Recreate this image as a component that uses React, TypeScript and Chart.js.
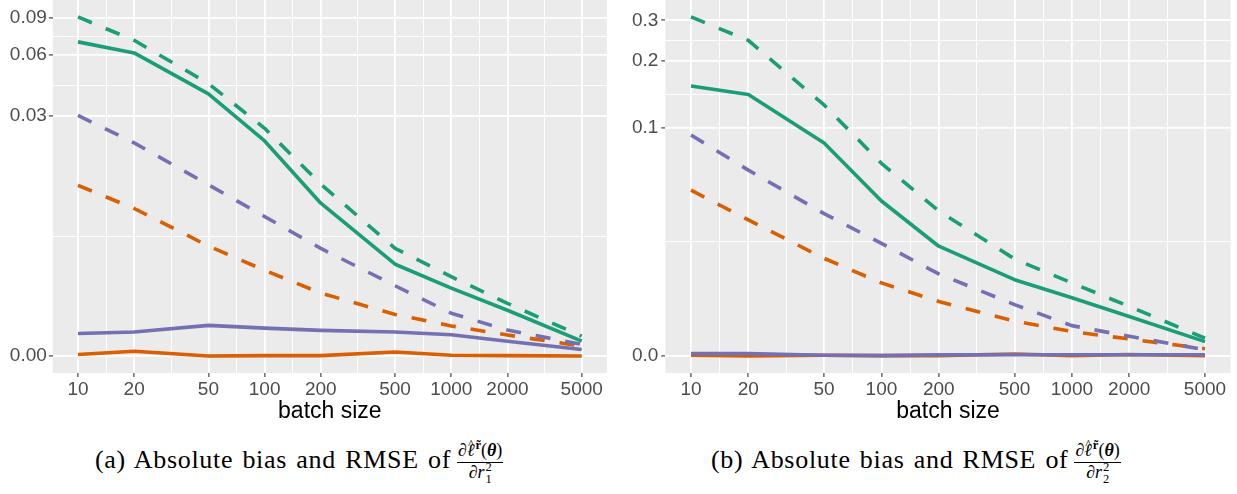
import React, { useEffect, useRef } from 'react';
import { Chart, registerables, LinearScale } from 'chart.js';

Chart.register(...registerables);

// ---------------- data ----------------
const batchSizes = [10, 20, 50, 100, 200, 500, 1000, 2000, 5000];
const xTicks = [10, 20, 50, 100, 200, 500, 1000, 2000, 5000];

const yTicksA = [0, 0.03, 0.06, 0.09];
const yLabelsA = ['0.00', '0.03', '0.06', '0.09'];
const yTicksB = [0, 0.1, 0.2, 0.3];
const yLabelsB = ['0.0', '0.1', '0.2', '0.3'];

// panel (a): solid = absolute bias, dashed = RMSE
const biasGreenA = [0.0693, 0.0613, 0.0387, 0.0224, 0.0103, 0.00417, 0.00267, 0.00158, 0.00043];
const rmseGreenA = [0.0912, 0.0705, 0.0435, 0.026, 0.0132, 0.0054, 0.00334, 0.00189, 0.00059];
const biasOrangeA = [0.00004, 0.00013, 0, 0.00001, 0.00001, 0.00011, 0.00002, 0.00001, 0];
const rmseOrangeA = [0.013, 0.0096, 0.0056, 0.00375, 0.0024, 0.0014, 0.00095, 0.00063, 0.00028];
const biasPurpleA = [0.00068, 0.00073, 0.00097, 0.00087, 0.00079, 0.00073, 0.00064, 0.00043, 0.00018];
const rmsePurpleA = [0.0302, 0.0219, 0.0131, 0.0086, 0.0054, 0.0028, 0.00145, 0.0008, 0.00033];

// panel (b)
const biasGreenB = [0.155, 0.142, 0.0848, 0.0435, 0.0238, 0.0138, 0.0096, 0.0059, 0.0019];
const rmseGreenB = [0.31, 0.2456, 0.1273, 0.0677, 0.0384, 0.0196, 0.013, 0.0078, 0.0024];
const biasOrangeB = [0.0001, 0, 0.0001, 0.00005, 0.00005, 0.00025, 0.00005, 0.0002, 0.00003];
const rmseOrangeB = [0.0496, 0.0342, 0.0198, 0.013, 0.0088, 0.0051, 0.0034, 0.00228, 0.00094];
const biasPurpleB = [0.0003, 0.0003, 0.0001, 0.00005, 0.00015, 0.00016, 0.00016, 0.00016, 0.00016];
const rmsePurpleB = [0.0925, 0.0627, 0.0371, 0.0248, 0.0153, 0.00816, 0.00434, 0.00267, 0.0008];

// ---------------- style ----------------
const GREEN = '#1B9E77';
const ORANGE = '#D95F02';
const PURPLE = '#7570B3';
const SANS = "'Liberation Sans', Arial, Helvetica, sans-serif";
const SERIF = "'Liberation Serif', 'Times New Roman', serif";

// pseudo-log (log(1 + y / c)) value axis, like the transformed ggplot axis
class PseudoLogScale extends (LinearScale as any) {
  static id = 'pseudolog';
  static defaults = {};
  _t0 = 0;
  _t1 = 1;
  tf(v: number) {
    const c = (this as any).options.c;
    return Math.log(1 + v / c);
  }
  itf(t: number) {
    const c = (this as any).options.c;
    return c * (Math.exp(t) - 1);
  }
  buildTicks() {
    const majors: number[] = (this as any).options.majors;
    const ts = majors.map((v) => this.tf(v));
    const out: any[] = majors.map((v) => ({ value: v, mn: false }));
    for (let i = 0; i < ts.length - 1; i++) {
      out.push({ value: this.itf((ts[i] + ts[i + 1]) / 2), mn: true });
    }
    out.sort((a, b) => a.value - b.value);
    return out;
  }
  configure() {
    super.configure();
    const self = this as any;
    const lo = this.tf(self.min);
    const hi = this.tf(self.max);
    const pad = (hi - lo) * 0.05;
    this._t0 = lo - pad;
    this._t1 = hi + pad;
  }
  getPixelForValue(v: number) {
    return (this as any).getPixelForDecimal((this.tf(v) - this._t0) / (this._t1 - this._t0));
  }
  getValueForPixel(p: number) {
    return this.itf(this._t0 + (this as any).getDecimalForPixel(p) * (this._t1 - this._t0));
  }
}
Chart.register(PseudoLogScale as any);

const bgPlugin = {
  id: 'panelBg',
  beforeDraw(chart: any) {
    const { ctx, chartArea: a } = chart;
    ctx.save();
    ctx.fillStyle = '#EBEBEB';
    ctx.fillRect(a.left, a.top, a.right - a.left, a.bottom - a.top);
    ctx.restore();
  },
};

function line(data: number[], color: string, dashed: boolean) {
  return {
    data: batchSizes.map((x, i) => ({ x, y: data[i] })),
    borderColor: color,
    backgroundColor: color,
    borderWidth: 3.6,
    borderDash: dashed ? [15, 15] : [],
    borderCapStyle: 'butt',
    borderJoinStyle: 'round',
    pointRadius: 0,
    pointHoverRadius: 0,
    fill: false,
    tension: 0,
  };
}

const lg = Math.log10;
const xSpan = lg(batchSizes[batchSizes.length - 1]) - lg(batchSizes[0]);
const xMin = Math.pow(10, lg(batchSizes[0]) - 0.05 * xSpan);
const xMax = Math.pow(10, lg(batchSizes[batchSizes.length - 1]) + 0.05 * xSpan);

const CANVAS_H = 430;
const X_AXIS_H = 57;
const TICK_FONT = 19;

function Panel(props: any) {
  const ref = useRef<HTMLCanvasElement>(null);
  const { left, width, yAxisWidth, rightPad, c, yTicks, yLabels, series, labelPad } = props;
  useEffect(() => {
    const minorW = 0.9;
    const majorW = 1.8;
    const chart = new Chart(ref.current as HTMLCanvasElement, {
      type: 'line',
      data: {
        datasets: [
          line(series.biasPurple, PURPLE, false),
          line(series.rmsePurple, PURPLE, true),
          line(series.biasOrange, ORANGE, false),
          line(series.rmseOrange, ORANGE, true),
          line(series.biasGreen, GREEN, false),
          line(series.rmseGreen, GREEN, true),
        ] as any,
      },
      options: {
        responsive: false,
        animation: false,
        events: [],
        layout: { padding: { left: 0, right: rightPad, top: 0, bottom: 0 } },
        plugins: {
          legend: { display: false },
          tooltip: { enabled: false },
          title: { display: false },
        },
        scales: {
          x: {
            type: 'logarithmic',
            min: xMin,
            max: xMax,
            bounds: 'data',
            border: { display: false },
            grid: {
              color: '#FFFFFF',
              lineWidth: (ctx: any) => (ctx.tick && ctx.tick.mn ? minorW : majorW),
              tickColor: (ctx: any) => (ctx.tick && ctx.tick.mn ? 'rgba(0,0,0,0)' : '#333333'),
              tickLength: 4,
              tickWidth: 1.1,
              drawTicks: true,
            },
            ticks: {
              autoSkip: false,
              maxRotation: 0,
              minRotation: 0,
              color: '#4D4D4D',
              font: { size: TICK_FONT, family: SANS },
              padding: 1,
              callback: (v: any, i: number, ticks: any[]) => (ticks[i] && ticks[i].mn ? '' : String(v)),
            },
            afterBuildTicks: (s: any) => {
              const majors = xTicks.map((v) => ({ value: v, mn: false }));
              const minors = xTicks.slice(1).map((v, i) => ({ value: Math.sqrt(v * xTicks[i]), mn: true }));
              s.ticks = [...majors, ...minors].sort((a, b) => a.value - b.value);
            },
            afterFit: (s: any) => {
              s.height = X_AXIS_H;
              s.paddingLeft = 0;
              s.paddingRight = 0;
              s.paddingTop = 0;
              s.paddingBottom = 0;
            },
            title: {
              display: true,
              text: 'batch size',
              color: '#000000',
              font: { size: 23, family: SANS },
              padding: { top: 0, bottom: 5 },
            },
          } as any,
          y: {
            type: 'pseudolog',
            c,
            majors: yTicks,
            border: { display: false },
            grid: {
              color: '#FFFFFF',
              lineWidth: (ctx: any) => (ctx.tick && ctx.tick.mn ? minorW : majorW),
              tickColor: (ctx: any) => (ctx.tick && ctx.tick.mn ? 'rgba(0,0,0,0)' : '#333333'),
              tickLength: 4,
              tickWidth: 1.1,
              drawTicks: true,
            },
            ticks: {
              autoSkip: false,
              color: '#4D4D4D',
              font: { size: TICK_FONT, family: SANS },
              padding: labelPad,
              callback: (v: any, i: number, ticks: any[]) => {
                if (ticks[i] && ticks[i].mn) return '';
                const k = yTicks.indexOf(v);
                return k >= 0 ? yLabels[k] : '';
              },
            },
            afterFit: (s: any) => {
              s.width = yAxisWidth;
              s.paddingLeft = 0;
              s.paddingRight = 0;
              s.paddingTop = 0;
              s.paddingBottom = 0;
            },
          } as any,
        },
      } as any,
      plugins: [bgPlugin],
    });
    return () => chart.destroy();
  }, []);
  return (
    <canvas
      ref={ref}
      width={width}
      height={CANVAS_H}
      style={{ position: 'absolute', left, top: 0, width, height: CANVAS_H, display: 'block' }}
    />
  );
}

function Fraction({ sub }: { sub: string }) {
  return (
    <span
      style={{
        display: 'inline-block',
        verticalAlign: '-10px',
        textAlign: 'center',
        fontSize: 18,
        lineHeight: '18px',
        letterSpacing: 0,
        wordSpacing: 0,
        marginLeft: 6,
      }}
    >
      <span style={{ display: 'block', padding: '0 1px 1px', whiteSpace: 'nowrap' }}>
        ∂
        <span style={{ position: 'relative', display: 'inline-block' }}>
          <i>ℓ</i>
          <span style={{ position: 'absolute', left: 1, top: -6, fontSize: 13 }}>^</span>
        </span>
        <span style={{ fontSize: 12.5, fontWeight: 'bold', position: 'relative', top: -7, marginLeft: 1 }}>r̃</span>
        (<b><i>θ</i></b>)
      </span>
      <span style={{ display: 'block', borderTop: '1px solid #000', whiteSpace: 'nowrap' }}>
        ∂<i>r</i>
        <span style={{ position: 'relative', display: 'inline-block', width: 7, height: 0 }}>
          <span style={{ position: 'absolute', left: 1, top: -17, fontSize: 12.5, lineHeight: '12px' }}>2</span>
          <span style={{ position: 'absolute', left: 1, top: -5, fontSize: 12.5, lineHeight: '12px' }}>{sub}</span>
        </span>
      </span>
    </span>
  );
}

function Caption({ left, letter, sub }: { left: number; letter: string; sub: string }) {
  return (
    <div
      style={{
        position: 'absolute',
        left,
        top: 441,
        fontFamily: SERIF,
        fontSize: 26,
        lineHeight: '26px',
        color: '#000',
        whiteSpace: 'nowrap',
      }}
    >
      <span style={{ letterSpacing: '0.7px', wordSpacing: '2px' }}>({letter}) Absolute bias and RMSE of</span>
      <Fraction sub={sub} />
    </div>
  );
}

export default function App() {
  const seriesA = {
    biasGreen: biasGreenA,
    rmseGreen: rmseGreenA,
    biasOrange: biasOrangeA,
    rmseOrange: rmseOrangeA,
    biasPurple: biasPurpleA,
    rmsePurple: rmsePurpleA,
  };
  const seriesB = {
    biasGreen: biasGreenB,
    rmseGreen: rmseGreenB,
    biasOrange: biasOrangeB,
    rmseOrange: rmseOrangeB,
    biasPurple: biasPurpleB,
    rmsePurple: rmsePurpleB,
  };
  return (
    <div style={{ position: 'absolute', left: 0, top: 0, width: 1237, height: 494, background: '#FFFFFF', overflow: 'hidden' }}>
      <Panel left={0} width={614} yAxisWidth={52.8} rightPad={7.1} c={0.0025} yTicks={yTicksA} yLabels={yLabelsA} series={seriesA} labelPad={2} />
      <Panel left={614} width={623} yAxisWidth={51.3} rightPad={6.3} c={0.013} yTicks={yTicksB} yLabels={yLabelsB} series={seriesB} labelPad={3} />
      <Caption left={95} letter="a" sub="1" />
      <Caption left={711} letter="b" sub="2" />
    </div>
  );
}
